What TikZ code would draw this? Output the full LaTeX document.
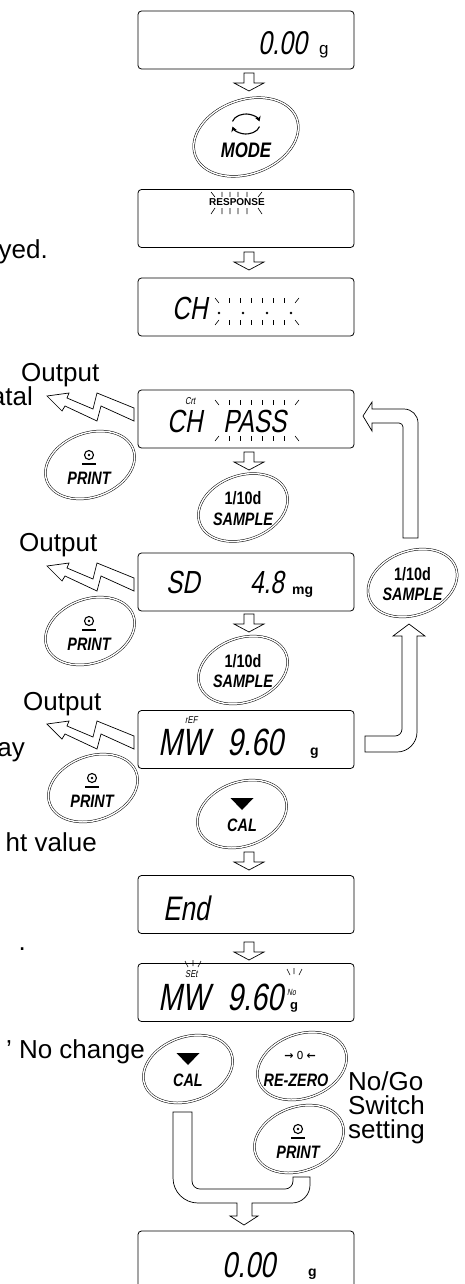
\documentclass[tikz,border=0pt]{standalone}
\usepackage{fontspec}
\usetikzlibrary{arrows.meta}
\setmainfont{Liberation Sans}
\newfontfamily\segfont[FakeStretch=0.76,FakeSlant=0.18]{Liberation Sans}
\newfontfamily\btnfont[FakeStretch=0.8]{Liberation Sans}
\newfontfamily\symfont{DejaVu Sans}
\begin{document}
\begin{tikzpicture}[x=1pt,y=-1pt,
  disp/.style={draw=black,line width=0.8pt,rounded corners=3.5pt,minimum width=216pt,minimum height=58pt,inner sep=0pt},
  hollow/.style={draw=black,line width=0.7pt,fill=white,line join=miter},
  btn/.style={draw=black,line width=0.5pt,double=white,double distance=1.4pt},
  segtxt/.style={font=\segfont\fontsize{#1}{#1}\selectfont,inner sep=0pt,anchor=base west},
  btxt/.style={font=\btnfont\bfseries\itshape\fontsize{18}{18}\selectfont,inner sep=0pt},
  btxu/.style={font=\btnfont\bfseries\fontsize{18}{18}\selectfont,inner sep=0pt},
  lbl/.style={font=\fontsize{26}{26}\selectfont,inner sep=0pt},
  unitg/.style={font=\bfseries\fontsize{#1}{#1}\selectfont,inner sep=0pt,anchor=base west},
  blink/.style={line width=0.6pt},
  darrow/.pic={\draw[hollow] (-5,0) -- (5,0) -- (5,10) -- (15,10) -- (0,18) -- (-15,10) -- (-5,10) -- cycle;},
  zap/.pic={\draw[hollow] (0,3) -- (22,0) -- (20,5) -- (46,16) -- (50,0) -- (87,15) -- (87,28) -- (54,13) -- (50,28) -- (18,13) -- (15,18) -- cycle;},
  printicon/.pic={\draw[line width=1.1pt] (0,0) circle[radius=4.5]; \fill (0,0) circle[radius=1.3]; \draw[line width=1.3pt] (-7,9) -- (7,9);},
]
\useasboundingbox (0,0) rectangle (465,1284);

% ---------- display boxes ----------
\node[disp] (d1) at (246,40) {};
\node[disp] (d2) at (246,218.5) {};
\node[disp] (d3) at (246,307) {};
\node[disp] (d4) at (246,419) {};
\node[disp] (d5) at (246,582) {};
\node[disp] (d6) at (246,739.5) {};
\node[disp] (d7) at (246,904.5) {};
\node[disp] (d8) at (246,992.5) {};
\node[disp] (d9) at (246,1260) {};

% ---------- display contents ----------
\node[segtxt=33] (v1) at (258,55) {0.00};
\node[font=\fontsize{17}{17}\selectfont,inner sep=0pt,anchor=base west] (v1g) at (319,55) {g};

\node[font=\bfseries\fontsize{10}{10}\selectfont,inner sep=0pt] (resp) at (237,202.5) {RESPONSE};
\draw[blink] (211,192) -- (215,197) (222,192) -- (222,197) (230,192) -- (230,197) (238,192) -- (238,197) (247,192) -- (247,197) (262,192) -- (258,197);
\draw[blink] (215,208) -- (211,214) (222,208) -- (222,214) (230,208) -- (230,214) (238,208) -- (238,214) (247,208) -- (247,214) (258,208) -- (262,214);

\node[segtxt=32] (v3) at (172,319) {CH};
\draw[blink] (215,298) -- (219,303) (299,298) -- (295,303);
\draw[blink] (219,320) -- (215,325) (295,320) -- (299,325);
\foreach \xx in {229,240,251,262,273,284} {\draw[blink] (\xx,298) -- (\xx,303) (\xx,320) -- (\xx,325);}
\foreach \xx in {219,243,267,291} {\fill (\xx,313) circle[radius=1.4];}

\node[segtxt=10] (v4c) at (185,404) {Crt};
\node[segtxt=32] (v4a) at (167,432) {CH};
\node[segtxt=32] (v4b) at (223,432) {PASS};
\draw[blink] (215,400) -- (219,405) (299,400) -- (295,405);
\draw[blink] (219,436) -- (215,441) (295,436) -- (299,441);
\foreach \xx in {229,240,251,262,273,284} {\draw[blink] (\xx,400) -- (\xx,405) (\xx,436) -- (\xx,441);}

\node[segtxt=32] (v5a) at (166,593) {SD};
\node[segtxt=32] (v5b) at (250,593) {4.8};
\node[unitg=14] (v5g) at (292,594) {mg};

\node[segtxt=10] (v6r) at (185,723) {rEF};
\node[segtxt=38] (v6a) at (158,755) {MW};
\node[segtxt=38] (v6b) at (227,755) {9.60};
\node[unitg=14] (v6g) at (310,755) {g};

\node[segtxt=34] (v7) at (163,920) {End};

\node[segtxt=10] (v8s) at (185,977) {SEt};
\draw[blink] (185,961) -- (188,967) (193,960) -- (193,966) (201,961) -- (198,967);
\node[segtxt=38] (v8a) at (158,1010) {MW};
\node[segtxt=38] (v8b) at (227,1010) {9.60};
\node[segtxt=9] (v8n) at (287,995) {No};
\draw[blink] (287,969) -- (290,975) (294,968) -- (294,974) (302,969) -- (299,975);
\node[unitg=13] (v8g) at (290,1009) {g};

\node[segtxt=36] (v9) at (222,1277) {0.00};
\node[unitg=14] (v9g) at (308,1276) {g};

% ---------- small down arrows ----------
\pic (a1) at (249,73) {darrow};
\pic (a2) at (249,252) {darrow};
\pic (a3) at (249,452) {darrow};
\pic (a4) at (249,614) {darrow};
\pic (a5) at (249,852) {darrow};
\pic (a6) at (249,942) {darrow};

% ---------- MODE button ----------
\coordinate (bmode) at (246,137);
\draw[btn,rotate around={20:(bmode)}] (bmode) ellipse[x radius=54,y radius=37];
\draw[line width=1.1pt,-{Stealth[length=5pt,width=6pt]}] (246,124) ++(195:14 and 10) arc[start angle=195,end angle=345,x radius=14,y radius=10];
\draw[line width=1.1pt,-{Stealth[length=5pt,width=6pt]}] (246,124) ++(15:14 and 10) arc[start angle=15,end angle=165,x radius=14,y radius=10];
\node[font=\btnfont\bfseries\itshape\fontsize{21}{21}\selectfont,inner sep=0pt] (tmode) at (246,150) {MODE};

% ---------- PRINT buttons ----------
\coordinate (bp1) at (90,465);
\draw[btn,rotate around={20:(bp1)}] (bp1) ellipse[x radius=46,y radius=32];
\pic at (89,455) {printicon};
\node[btxt] (tp1) at (89,478.5) {PRINT};

\coordinate (bp2) at (90,631);
\draw[btn,rotate around={20:(bp2)}] (bp2) ellipse[x radius=46,y radius=32];
\pic at (89,621) {printicon};
\node[btxt] (tp2) at (89,644.5) {PRINT};

\coordinate (bp3) at (93,788);
\draw[btn,rotate around={20:(bp3)}] (bp3) ellipse[x radius=46,y radius=32];
\pic at (92,778) {printicon};
\node[btxt] (tp3) at (92,801.5) {PRINT};

\coordinate (bp4) at (299,1139);
\draw[btn,rotate around={20:(bp4)}] (bp4) ellipse[x radius=46,y radius=32];
\pic at (298,1129) {printicon};
\node[btxt] (tp4) at (298,1152.5) {PRINT};

% ---------- SAMPLE buttons ----------
\coordinate (bs1) at (243,507.5);
\draw[btn,rotate around={20:(bs1)}] (bs1) ellipse[x radius=46,y radius=32];
\node[btxu] (ts1a) at (243,498.5) {1/10d};
\node[btxt] (ts1b) at (243,519) {SAMPLE};

\coordinate (bs2) at (243,670);
\draw[btn,rotate around={20:(bs2)}] (bs2) ellipse[x radius=46,y radius=32];
\node[btxu] (ts2a) at (243,661) {1/10d};
\node[btxt] (ts2b) at (243,681.5) {SAMPLE};

\coordinate (bs3) at (412.5,583);
\draw[btn,rotate around={20:(bs3)}] (bs3) ellipse[x radius=46,y radius=32];
\node[btxu] (ts3a) at (412.5,574) {1/10d};
\node[btxt] (ts3b) at (412.5,594.5) {SAMPLE};

% ---------- CAL buttons ----------
\coordinate (bc1) at (242,814);
\draw[btn,rotate around={20:(bc1)}] (bc1) ellipse[x radius=46,y radius=32];
\fill (230.5,798) -- (253.5,798) -- (242,810) -- cycle;
\node[btxt] (tc1) at (242,825) {CAL};

\coordinate (bc2) at (188,1069);
\draw[btn,rotate around={20:(bc2)}] (bc2) ellipse[x radius=46,y radius=32];
\fill (176.5,1053) -- (199.5,1053) -- (188,1065) -- cycle;
\node[btxt] (tc2) at (188,1080) {CAL};

% ---------- RE-ZERO button ----------
\coordinate (bz) at (302,1066);
\draw[btn,rotate around={20:(bz)}] (bz) ellipse[x radius=46,y radius=32];
\node[font=\symfont\fontsize{11}{11}\selectfont,inner sep=0pt] (tz1) at (300,1055) {\textbf{→}\hspace{3pt}0\hspace{3pt}\textbf{←}};
\node[btxt] (tz2) at (296,1080) {RE-ZERO};

% ---------- output zaps ----------
\pic (z1) at (47,393) {zap};
\pic (z2) at (47,563) {zap};
\pic (z3) at (47,721) {zap};

% ---------- loop arrows on the right ----------
\draw[hollow] (403,538) -- (403,427) arc[start angle=0,end angle=-90,radius=4] -- (372,423) -- (372,431) -- (363,416) -- (372,402) -- (372,409) -- (404,409) arc[start angle=-90,end angle=0,radius=14] -- (418,538) -- cycle;
\draw[hollow] (409,624) -- (425,636) -- (417,636) -- (417,732) arc[start angle=0,end angle=90,radius=20] -- (365,752) -- (365,736) -- (395,736) arc[start angle=90,end angle=0,radius=7] -- (402,636) -- (393,636) -- cycle;

% ---------- merging arrow at bottom ----------
\draw[hollow] (173,1112) -- (192,1112) -- (192,1181) arc[start angle=180,end angle=90,radius=8] -- (285,1189) arc[start angle=90,end angle=0,radius=8] -- (293,1177) -- (310,1177) -- (310,1185) arc[start angle=0,end angle=90,radius=18] -- (252,1203) -- (252,1216) -- (258,1216) -- (244,1225) -- (230,1216) -- (237,1216) -- (237,1203) -- (198,1203) arc[start angle=90,end angle=180,radius=25] -- cycle;

% ---------- side labels ----------
\node[lbl,anchor=base east] (t1) at (48,258) {yed.};
\node[lbl,anchor=base west] (o1) at (21,381) {Output};
\node[lbl,anchor=base east] (t2) at (33,405) {atal};
\node[lbl,anchor=base west] (o2) at (19,551) {Output};
\node[lbl,anchor=base west] (o3) at (23,710) {Output};
\node[lbl,anchor=base east] (t3) at (25,756) {ay};
\node[lbl,anchor=base east] (t4) at (97,851) {ht value};
\node[lbl,anchor=base east] (t5) at (26,950) {.};
\node[lbl,anchor=base east] (t6) at (145,1058) {’ No change};
\node[lbl,anchor=base west] (t7) at (348,1090) {No/Go};
\node[lbl,anchor=base west] (t8) at (348,1114) {Switch};
\node[lbl,anchor=base west] (t9) at (348,1138) {setting};
\end{tikzpicture}
\end{document}
